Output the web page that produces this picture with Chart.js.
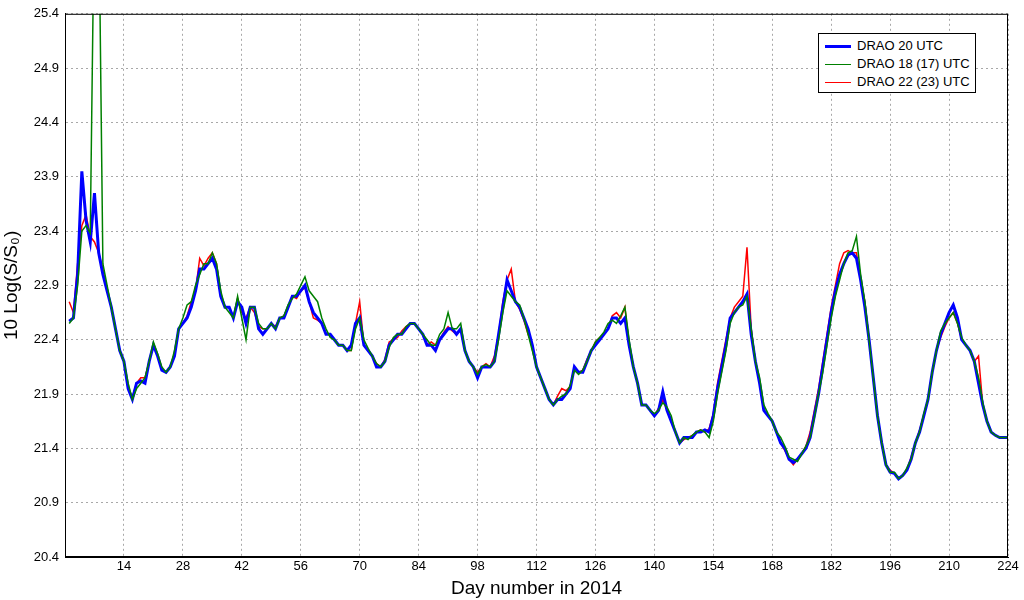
<!DOCTYPE html>
<html><head><meta charset="utf-8">
<script src="https://cdn.jsdelivr.net/npm/chart.js@4/dist/chart.umd.min.js"></script>
<style>
body{margin:0;background:#fff;}
#wrap{position:relative;width:1024px;height:600px;}
#legend{position:absolute;left:818px;top:33px;width:158px;height:60px;border:1px solid #000;background:#fff;font:13px "Liberation Sans",Arial,sans-serif;box-sizing:border-box;padding:3px 0 0 6px;}
#legend div{height:18px;line-height:18px;white-space:nowrap;}
#legend span{display:inline-block;width:26px;vertical-align:middle;margin-right:6px;}
</style></head><body>
<div id="wrap"><canvas id="c" width="1024" height="600"></canvas>
<div id="legend">
<div><span style="border-top:3px solid #0000ff"></span>DRAO 20 UTC</div>
<div><span style="border-top:1.5px solid #008000"></span>DRAO 18 (17) UTC</div>
<div><span style="border-top:1.5px solid #ff0000"></span>DRAO 22 (23) UTC</div>
</div></div>
<script>
const seriesNames = ["DRAO 20 UTC","DRAO 18 (17) UTC","DRAO 22 (23) UTC"];
const xTicks = [14,28,42,56,70,84,98,112,126,140,154,168,182,196,210,224];
const yTicks = [20.4,20.9,21.4,21.9,22.4,22.9,23.4,23.9,24.4,24.9,25.4];
const blue = [22.57,22.6,23.0,23.95,23.5,23.3,23.75,23.2,23.0,22.85,22.7,22.5,22.3,22.2,21.95,21.85,22.0,22.02,22.0,22.2,
22.35,22.25,22.12,22.1,22.15,22.25,22.5,22.55,22.6,22.7,22.85,23.05,23.05,23.1,23.15,23.05,22.8,22.7,22.7,22.6,
22.75,22.7,22.55,22.7,22.7,22.5,22.45,22.5,22.55,22.5,22.6,22.6,22.7,22.8,22.8,22.85,22.9,22.75,22.65,22.6,
22.55,22.45,22.45,22.4,22.35,22.35,22.3,22.35,22.55,22.6,22.35,22.3,22.25,22.15,22.15,22.2,22.35,22.4,22.45,22.45,
22.5,22.55,22.55,22.5,22.45,22.35,22.35,22.3,22.4,22.45,22.5,22.5,22.45,22.5,22.3,22.2,22.15,22.05,22.15,22.15,
22.15,22.2,22.45,22.7,22.95,22.85,22.75,22.7,22.6,22.5,22.35,22.15,22.05,21.95,21.85,21.8,21.85,21.85,21.9,21.95,
22.15,22.1,22.1,22.2,22.3,22.35,22.4,22.45,22.5,22.6,22.6,22.55,22.6,22.35,22.15,22.0,21.8,21.8,21.75,21.7,
21.75,21.92,21.75,21.65,21.55,21.45,21.5,21.5,21.5,21.55,21.55,21.57,21.55,21.7,21.95,22.15,22.35,22.6,22.65,22.7,
22.75,22.82,22.45,22.2,22.0,21.75,21.7,21.65,21.55,21.45,21.4,21.3,21.27,21.3,21.35,21.4,21.5,21.7,21.9,22.15,
22.4,22.65,22.85,23.0,23.1,23.18,23.2,23.15,22.95,22.7,22.4,22.05,21.7,21.45,21.25,21.18,21.17,21.12,21.15,21.2,
21.3,21.45,21.55,21.7,21.85,22.1,22.3,22.45,22.55,22.65,22.72,22.6,22.4,22.35,22.3,22.2,22.0,21.8,21.65,21.55,
21.52,21.5,21.5,21.5];
const green = [22.55,22.6,22.9,23.4,23.45,23.38,26.5,26.5,23.1,22.9,22.7,22.5,22.3,22.2,22.0,21.85,21.95,22.0,22.05,22.2,
22.38,22.27,22.15,22.1,22.15,22.3,22.5,22.6,22.72,22.75,22.9,23.0,23.1,23.1,23.2,23.1,22.85,22.7,22.65,22.6,
22.8,22.6,22.4,22.7,22.7,22.55,22.5,22.5,22.55,22.5,22.6,22.62,22.72,22.78,22.82,22.9,22.98,22.85,22.8,22.75,
22.6,22.5,22.42,22.4,22.35,22.35,22.3,22.3,22.5,22.6,22.4,22.32,22.25,22.18,22.15,22.2,22.33,22.42,22.45,22.45,
22.52,22.55,22.55,22.5,22.45,22.4,22.35,22.35,22.45,22.5,22.65,22.5,22.5,22.55,22.3,22.2,22.15,22.08,22.15,22.17,
22.15,22.2,22.4,22.65,22.85,22.8,22.75,22.72,22.6,22.45,22.3,22.15,22.05,21.95,21.85,21.8,21.85,21.88,21.9,21.98,
22.12,22.08,22.12,22.2,22.3,22.38,22.42,22.47,22.55,22.58,22.55,22.62,22.7,22.4,22.15,22.0,21.8,21.8,21.75,21.72,
21.75,21.82,21.78,21.7,21.55,21.45,21.5,21.48,21.52,21.55,21.57,21.55,21.5,21.65,21.9,22.1,22.3,22.55,22.65,22.7,
22.72,22.8,22.5,22.2,22.05,21.8,21.72,21.65,21.55,21.5,21.42,21.32,21.3,21.28,21.35,21.42,21.5,21.68,21.9,22.1,
22.35,22.6,22.8,22.95,23.1,23.2,23.22,23.35,23.0,22.75,22.4,22.05,21.7,21.45,21.25,21.18,21.18,21.12,21.15,21.22,
21.3,21.45,21.55,21.72,21.85,22.1,22.3,22.48,22.55,22.6,22.65,22.55,22.42,22.35,22.3,22.2,22.05,21.82,21.65,21.55,
21.52,21.5,21.5,21.5];
const red = [22.75,22.65,23.1,23.45,23.55,23.35,23.3,23.2,23.05,22.85,22.7,22.5,22.3,22.2,21.95,21.87,22.0,22.05,22.05,22.2,
22.35,22.25,22.12,22.1,22.15,22.25,22.5,22.55,22.62,22.75,22.85,23.15,23.08,23.15,23.2,23.1,22.8,22.7,22.7,22.6,
22.78,22.65,22.6,22.7,22.65,22.52,22.5,22.5,22.55,22.52,22.6,22.62,22.7,22.8,22.78,22.85,22.88,22.75,22.6,22.58,
22.55,22.45,22.45,22.4,22.35,22.35,22.3,22.3,22.55,22.75,22.35,22.3,22.25,22.18,22.15,22.22,22.38,22.4,22.42,22.48,
22.52,22.55,22.55,22.5,22.45,22.35,22.38,22.35,22.4,22.47,22.52,22.48,22.45,22.5,22.3,22.2,22.15,22.1,22.15,22.18,
22.15,22.25,22.45,22.75,22.95,23.05,22.75,22.68,22.58,22.45,22.35,22.15,22.05,21.95,21.85,21.8,21.88,21.95,21.93,21.97,
22.15,22.1,22.12,22.22,22.3,22.38,22.42,22.45,22.5,22.62,22.65,22.6,22.7,22.35,22.15,22.0,21.8,21.8,21.75,21.7,
21.77,21.85,21.75,21.65,21.55,21.45,21.48,21.5,21.52,21.55,21.57,21.55,21.58,21.72,22.0,22.2,22.4,22.6,22.7,22.75,
22.8,23.25,22.5,22.2,22.0,21.75,21.7,21.65,21.55,21.45,21.38,21.3,21.25,21.3,21.35,21.42,21.55,21.75,21.95,22.2,
22.45,22.7,22.9,23.1,23.2,23.22,23.2,23.2,22.95,22.75,22.4,22.05,21.7,21.45,21.25,21.2,21.17,21.12,21.15,21.2,
21.32,21.45,21.57,21.7,21.85,22.1,22.3,22.42,22.52,22.6,22.65,22.55,22.4,22.35,22.3,22.2,22.25,21.8,21.65,21.55,
21.52,21.5,21.5,21.5];
const pts = a => a.map((v,i)=>({x:i+1,y:v}));
const F = '"Liberation Sans", Arial, sans-serif';
new Chart(document.getElementById('c'),{
 type:'line',
 data:{datasets:[
  {label:seriesNames[1],data:pts(green),borderColor:'#008000',borderWidth:1.5,pointRadius:0,tension:0},
  {label:seriesNames[0],data:pts(blue),borderColor:'#0000ff',borderWidth:3,pointRadius:0,tension:0},
  {label:seriesNames[2],data:pts(red),borderColor:'#ff0000',borderWidth:1.5,pointRadius:0,tension:0}
 ]},
 options:{
  responsive:false,animation:false,
  layout:{padding:{top:8,right:16,left:0,bottom:0}},
  plugins:{legend:{display:false},tooltip:{enabled:false}},
  scales:{
   x:{type:'linear',min:0,max:224,
     afterBuildTicks:s=>{s.ticks=[0].concat(xTicks).map(v=>({value:v}));},
     afterFit:s=>{s.height=43;},
     ticks:{color:'#000',font:{family:F,size:13},padding:2,maxRotation:0,callback:v=>v===0?'':String(v)},
     grid:{color:'#a8a8a8',tickLength:0,drawTicks:false},
     border:{color:'#000',width:1,dash:[2,3]},
     title:{display:true,text:'Day number in 2014',color:'#000',font:{family:F,size:19},padding:{top:0,bottom:0}}},
   y:{min:20.4,max:25.4,
     afterBuildTicks:s=>{s.ticks=yTicks.map(v=>({value:v}));},
     afterFit:s=>{s.width=65;},
     ticks:{color:'#000',font:{family:F,size:13},padding:6,callback:v=>v.toFixed(1)},
     grid:{color:'#a8a8a8',drawTicks:false},
     border:{color:'#000',width:1,dash:[2,3]},
     title:{display:true,text:'10 Log(S/S\u2080)',color:'#000',font:{family:F,size:19},padding:{top:0,bottom:2}}}
  }
 },
 plugins:[{id:'frame',afterDraw(c){const a=c.chartArea,x=c.ctx;x.save();x.strokeStyle='#000';x.lineWidth=1;x.strokeRect(a.left+0.5,a.top+0.5,a.right-a.left-1,a.bottom-a.top-1);x.restore();}}]
});
</script></body></html>
